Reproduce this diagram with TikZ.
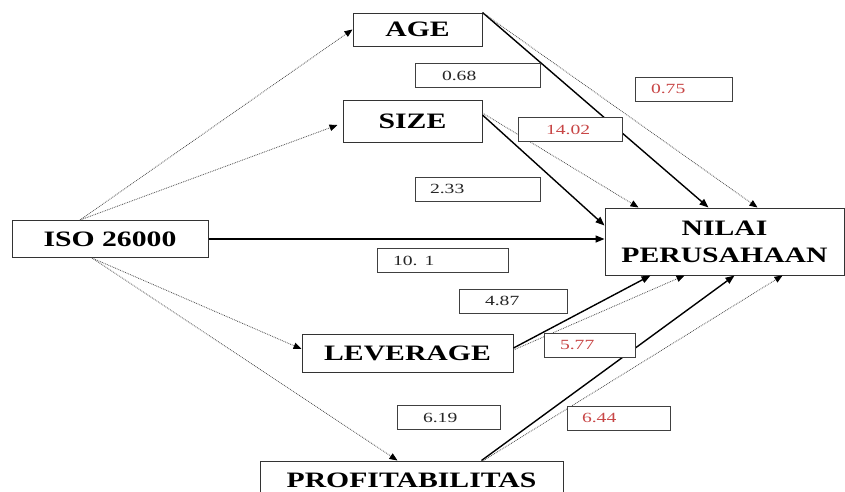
\documentclass[tikz,border=0pt]{standalone}
\usepackage{fontspec}
\setmainfont{Liberation Serif}
\newfontfamily\boxfont[FakeStretch=1.35]{Liberation Serif}
\newfontfamily\valfont[FakeStretch=1.4]{Liberation Serif}
\usetikzlibrary{arrows.meta}
\definecolor{valred}{RGB}{200,70,70}

\begin{document}
\begin{tikzpicture}[x=1pt, y=-1pt]
  \tikzstyle{box}=[draw=black!80, line width=1pt, fill=white, inner sep=0pt, align=center, font=\boxfont\bfseries\fontsize{22}{27}\selectfont]
  \tikzstyle{val}=[draw=black!75, line width=0.9pt, fill=white, inner ysep=0pt, minimum height=24pt, align=left, text=black!85, font=\valfont\fontsize{14}{16}\selectfont]
  \tikzstyle{direct}=[line width=1.4pt, -{Triangle[length=9pt,width=7pt]}]
  \tikzstyle{indirect}=[densely dotted, draw=black!70, line width=0.8pt, -{Triangle[length=8pt,width=6.5pt,color=black]}]
  \useasboundingbox (0,0) rectangle (845,491);

  \node[box, minimum width=196, minimum height=37] (iso) at (110,239) {ISO 26000};
  \node[box, minimum width=129, minimum height=33] (age) at (417.5,29.5) {AGE};
  \node[box, minimum width=139, minimum height=42] (size) at (412.5,121) {SIZE};
  \node[box, minimum width=211, minimum height=38] (leverage) at (407.5,353) {LEVERAGE};
  \node[box, minimum width=303, minimum height=39] (profit) at (411.5,480.5) {PROFITABILITAS};
  \node[box, minimum width=239, minimum height=67] (nilai) at (724.5,241.5) {NILAI\\PERUSAHAAN};

  % iso 26000 to the moderators
  \draw[indirect] ([xshift=-30]iso.north) -- (age.west);
  \draw[indirect] ([xshift=-30]iso.north) -- ([xshift=-5,yshift=-4]size.west);
  \draw[indirect] ([xshift=-18]iso.south) -- ([yshift=4]leverage.west);
  \draw[indirect] ([xshift=-18]iso.south) -- ([xshift=-14]profit.north);

  % paths into nilai perusahaan
  \draw[direct] (iso.east) -- (iso.east -| nilai.west);
  \draw[direct] (age.north east) -- ([xshift=-16]nilai.north);
  \draw[indirect] (age.north east) -- ([xshift=33]nilai.north);
  \draw[direct] ([yshift=6]size.east) -- ([yshift=16]nilai.west);
  \draw[indirect] ([yshift=8]size.east) -- ([xshift=-86]nilai.north);
  \draw[direct] ([yshift=5]leverage.east) -- ([xshift=-74]nilai.south);
  \draw[indirect] ([yshift=3]leverage.east) -- ([xshift=-40]nilai.south);
  \draw[direct] ([xshift=70]profit.north) -- ([xshift=10]nilai.south);
  \draw[indirect] ([xshift=72]profit.north) -- ([xshift=58]nilai.south);

  % coefficients
  \node[val, inner xsep=27, text width=71] (v1) at (477.5,75.5) {0.68};
  \node[val, inner xsep=16, text width=65, text=valred] (v2) at (683.5,89) {0.75};
  \node[val, inner xsep=28, text width=48, text=valred] (v3) at (570,129.5) {14.02};
  \node[val, inner xsep=15, text width=95] (v4) at (477.5,189) {2.33};
  \node[val, inner xsep=16, text width=99] (v5) at (442.5,260.5) {10. 1};
  \node[val, inner xsep=26, text width=56] (v6) at (513,301) {4.87};
  \node[val, inner xsep=16, text width=59, text=valred] (v7) at (589.5,345) {5.77};
  \node[val, inner xsep=26, text width=51] (v8) at (448.5,417.5) {6.19};
  \node[val, inner xsep=15, text width=73, text=valred] (v9) at (618.5,418) {6.44};
\end{tikzpicture}
\end{document}
